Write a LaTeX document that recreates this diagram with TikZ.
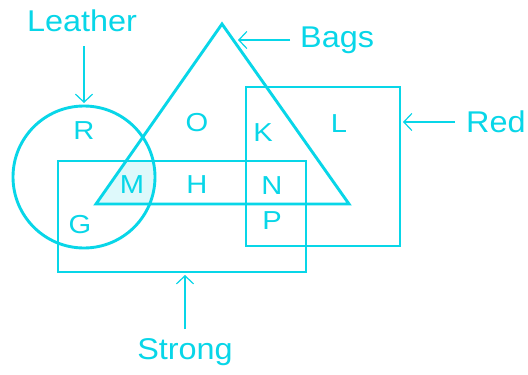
\documentclass[tikz,border=0pt]{standalone}
\usepackage{fontspec}
\setmainfont{Liberation Sans}
\usetikzlibrary{arrows.meta}
\definecolor{cy}{RGB}{8,214,232}
\definecolor{cyfill}{RGB}{222,249,251}
\begin{document}
\begin{tikzpicture}[x=1pt,y=-1pt,
  shape line/.style={draw=cy,line width=2.9pt},
  setlabel/.style={text=cy,font=\fontsize{30}{32}\selectfont,inner sep=0pt,xscale=1.08},
  region/.style={text=cy,font=\fontsize{26}{28}\selectfont,inner sep=0pt,xscale=1.12},
  pointer/.style={draw=cy,line width=2.5pt,-{Straight Barb[length=8pt,width=17pt,line width=1.2pt]}}]
\useasboundingbox[fill=white] (0,0) rectangle (528,375);
% shaded region M
\begin{scope}
  \clip (84,177) circle[radius=71];
  \clip (58,161) rectangle (306,272);
  \fill[cyfill] (222,24) -- (96,204) -- (349,204) -- cycle;
\end{scope}
% shapes
\draw[shape line] (84,177) circle[radius=71];
\draw[shape line] (222,24) -- (96,204) -- (349,204) -- cycle;
\draw[shape line] (58,161) rectangle (306,272);
\draw[shape line] (246,87) rectangle (400,246);
% anchor points
\coordinate (leatherTip) at (84,103);
\coordinate (bagsTip) at (238,40);
\coordinate (redTip) at (403,122);
\coordinate (strongTip) at (185,275);
% labels
\node[setlabel] (leather) at (82,21) {Leather};
\node[setlabel,anchor=west] (bags) at (300,40) {Bags};
\node[setlabel,anchor=west] (red) at (466,122) {Red};
\node[setlabel] (strong) at (185,352) {Strong};
\draw[pointer] (84,46) -- (leatherTip);
\draw[pointer] (290,40) -- (bagsTip);
\draw[pointer] (455,122) -- (redTip);
\draw[pointer] (185,329) -- (strongTip);
% regions
\node[region] (R) at (84,131) {R};
\node[region] (O) at (197,123) {O};
\node[region] (K) at (263,133) {K};
\node[region] (L) at (339,124) {L};
\node[region] (M) at (132,185) {M};
\node[region] (H) at (197,185) {H};
\node[region] (N) at (272,186) {N};
\node[region] (G) at (80,225) {G};
\node[region] (P) at (272,221) {P};
\end{tikzpicture}
\end{document}
